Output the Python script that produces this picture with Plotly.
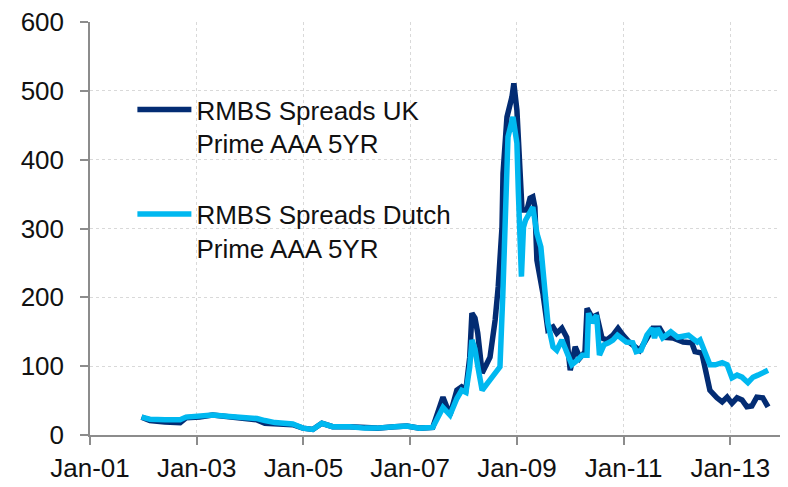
import plotly.graph_objects as go

# ---------------- data ----------------
uk_dates = [
    "2001-12-20", "2002-02-15", "2002-05-28", "2002-09-10", "2002-10-20", "2003-01-22",
    "2003-04-20", "2003-08-15", "2003-11-27", "2004-02-18", "2004-04-12", "2004-06-20",
    "2004-10-20", "2004-12-28", "2005-03-06", "2005-05-07", "2005-07-20", "2005-11-14",
    "2006-02-25", "2006-05-18", "2006-09-18", "2006-12-10", "2007-03-08", "2007-06-05",
    "2007-08-14", "2007-10-01", "2007-11-17", "2007-12-20", "2008-01-18", "2008-02-13",
    "2008-02-28", "2008-03-20", "2008-04-08", "2008-05-08", "2008-07-01", "2008-08-05",
    "2008-08-26", "2008-09-21", "2008-09-28", "2008-10-25", "2008-11-28", "2008-12-11",
    "2009-01-01", "2009-01-22", "2009-02-05", "2009-03-11", "2009-04-01", "2009-04-20",
    "2009-05-04", "2009-05-18", "2009-06-08", "2009-06-28", "2009-08-01", "2009-09-05",
    "2009-10-01", "2009-11-05", "2009-12-08", "2010-01-01", "2010-02-04", "2010-03-08",
    "2010-04-12", "2010-04-26", "2010-05-30", "2010-07-01", "2010-08-06", "2010-09-09",
    "2010-10-20", "2010-11-24", "2010-12-28", "2011-02-13", "2011-04-22", "2011-06-10",
    "2011-07-20", "2011-09-05", "2011-10-11", "2011-12-05", "2012-02-13", "2012-04-12",
    "2012-05-04", "2012-06-20", "2012-07-24", "2012-08-14", "2012-10-01", "2012-11-06",
    "2012-12-10", "2013-01-12", "2013-02-16", "2013-03-22", "2013-04-24", "2013-05-28",
    "2013-07-01", "2013-08-11", "2013-09-16",
]
uk_values = [
    26, 21, 19, 18, 25, 26,
    29, 27, 25, 22, 17, 16,
    15, 10, 8, 17, 12, 12,
    10, 10, 12, 13, 10, 11,
    55, 29, 65, 70, 66, 113,
    177, 170, 148, 90, 113, 167,
    215, 302, 380, 462, 491, 511,
    472, 385, 327, 327, 344, 346,
    331, 254, 230, 206, 153, 157,
    148, 155, 142, 94, 128, 112,
    121, 184, 171, 174, 141, 138,
    145, 155, 145, 134, 123, 141,
    155, 155, 142, 141, 135, 134,
    121, 119, 90, 65, 54, 48,
    55, 46, 54, 51, 41, 42,
    55, 54, 41,
]

nl_dates = [
    "2001-12-20", "2002-02-15", "2002-05-28", "2002-09-10", "2002-10-20", "2003-01-22",
    "2003-04-20", "2003-08-15", "2003-11-27", "2004-02-18", "2004-04-12", "2004-06-20",
    "2004-10-20", "2004-12-28", "2005-03-06", "2005-05-07", "2005-07-20", "2005-11-14",
    "2006-02-25", "2006-05-18", "2006-09-18", "2006-12-10", "2007-03-08", "2007-06-05",
    "2007-08-14", "2007-10-01", "2007-11-17", "2007-12-20", "2008-01-18", "2008-02-13",
    "2008-02-28", "2008-03-20", "2008-04-08", "2008-05-08", "2008-07-01", "2008-08-20",
    "2008-09-07", "2008-09-27", "2008-10-17", "2008-11-01", "2008-12-05", "2009-01-01",
    "2009-01-11", "2009-01-19", "2009-02-01", "2009-02-15", "2009-03-01", "2009-04-20",
    "2009-05-18", "2009-06-14", "2009-07-05", "2009-08-01", "2009-09-05", "2009-10-01",
    "2009-11-05", "2009-12-08", "2010-01-12", "2010-02-20", "2010-03-25", "2010-04-26",
    "2010-05-06", "2010-05-30", "2010-07-01", "2010-07-20", "2010-08-20", "2010-09-20",
    "2010-10-20", "2010-11-20", "2011-01-20", "2011-03-05", "2011-03-28", "2011-05-01",
    "2011-06-10", "2011-07-15", "2011-08-01", "2011-08-20", "2011-09-25", "2011-11-20",
    "2012-01-06", "2012-03-20", "2012-04-12", "2012-05-20", "2012-06-08", "2012-07-10",
    "2012-08-14", "2012-09-20", "2012-11-06", "2012-12-10", "2013-01-12", "2013-02-16",
    "2013-03-22", "2013-05-01", "2013-06-05", "2013-07-08", "2013-08-11", "2013-09-16",
]
nl_values = [
    26, 23, 22, 22, 26, 27,
    29, 27, 26, 24, 21, 18,
    16, 10, 8, 17, 12, 12,
    10, 10, 12, 13, 10, 11,
    40, 29, 53, 65, 62, 99,
    138, 125, 100, 65, 80, 95,
    99, 206, 352, 433, 462, 424,
    352, 274, 230, 302, 312, 331,
    293, 273, 230, 163, 128, 123,
    138, 119, 102, 109, 116, 116,
    177, 163, 174, 116, 131, 134,
    138, 145, 135, 134, 121, 123,
    145, 155, 141, 155, 141, 150,
    142, 145, 141, 135, 138, 123,
    102, 102, 105, 102, 83, 87,
    84, 76, 84, 87, 90, 94,
]

series_names = ["RMBS Spreads UK<br>Prime AAA 5YR", "RMBS Spreads Dutch<br>Prime AAA 5YR"]
y_ticks = [0, 100, 200, 300, 400, 500, 600]

# ---------------- figure ----------------
FONT = "Liberation Sans, Arial, sans-serif"
DARK = "#032C73"
CYAN = "#00B8F0"

fig = go.Figure()
fig.add_trace(go.Scatter(x=uk_dates, y=uk_values, mode="lines", name=series_names[0],
                         legendgroup="uk",
                         line=dict(color=DARK, width=5.5, shape="linear")))
fig.add_trace(go.Scatter(x=nl_dates, y=nl_values, mode="lines", name=series_names[1],
                         legendgroup="nl",
                         line=dict(color=CYAN, width=5.5, shape="linear")))

# the page body adds an 8px offset, so the figure is sized to fit inside the window
fig.update_layout(
    width=780, height=479,
    margin=dict(l=82, r=3, t=14, b=52),
    paper_bgcolor="white", plot_bgcolor="white",
    font=dict(family=FONT, size=26, color="#111111"),
    showlegend=True,
    legend=dict(
        x=0.061, y=0.845, xanchor="left", yanchor="top",
        bgcolor="rgba(0,0,0,0)", borderwidth=0,
        font=dict(family=FONT, size=26, color="#111111"),
        tracegroupgap=34, valign="top", itemwidth=54,
    ),
    xaxis=dict(
        type="date", automargin=False,
        range=["2001-01-01", "2014-01-10"],
        tick0="2001-01-01", dtick="M24", tickformat="%b-%y",
        showline=True, linecolor="#8C8C8C", linewidth=1.5,
        ticks="outside", ticklen=8, tickcolor="#8C8C8C", tickwidth=1.5,
        showgrid=True, gridcolor="#D9D9D9", griddash="dot", gridwidth=1,
        zeroline=False, ticklabelstandoff=1, ticklabeloverflow="allow",
        tickfont=dict(family=FONT, size=26, color="#111111"),
    ),
    yaxis=dict(
        range=[0, 600], tickvals=y_ticks, automargin=False,
        showline=True, linecolor="#8C8C8C", linewidth=1.5,
        ticks="outside", ticklen=8, tickcolor="#8C8C8C", tickwidth=1.5,
        showgrid=True, gridcolor="#D9D9D9", griddash="dot", gridwidth=1,
        zeroline=False, ticklabelstandoff=11, ticklabeloverflow="allow",
        tickfont=dict(family=FONT, size=26, color="#111111"),
    ),
)

fig.write_html("out.html")
